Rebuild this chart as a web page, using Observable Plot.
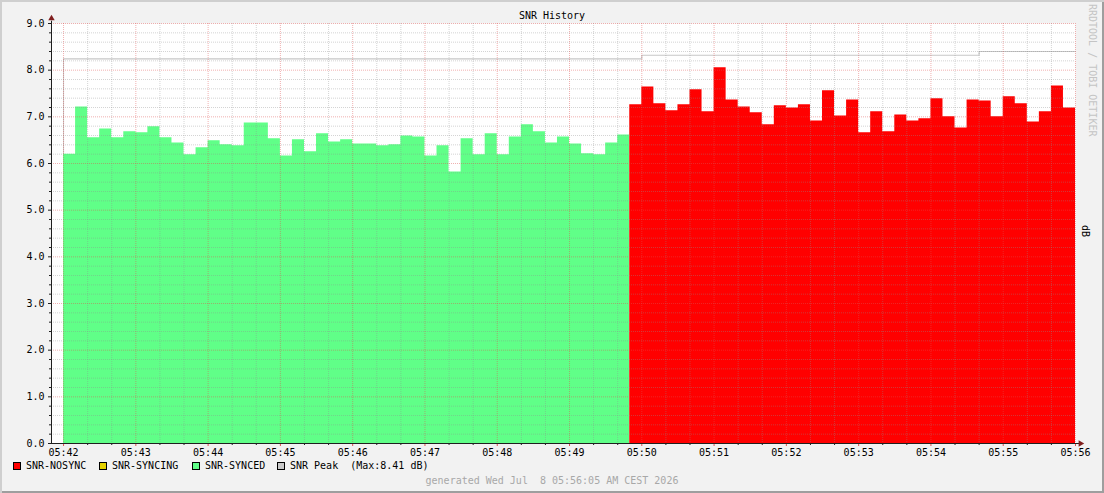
<!DOCTYPE html>
<html>
<head>
<meta charset="utf-8">
<script src="https://cdn.jsdelivr.net/npm/d3@7"></script>
<script src="https://cdn.jsdelivr.net/npm/@observablehq/plot@0.6"></script>
<style>
  body { margin: 0; background: #fff; }
  #chart {
    position: relative; width: 1104px; height: 493px; overflow: hidden;
    background: #f2f2f2;
    box-shadow: inset 2px 2px 0 #cfcfcf, inset -2px -2px 0 #9e9e9e;
    font-family: "DejaVu Sans Mono", monospace; font-size: 10px; color: #000;
  }
  #chart svg { position: absolute; left: 0; top: 0; }
  .abs { position: absolute; white-space: pre; line-height: 12px; }
  #title { left: 0; width: 1104px; top: 10px; text-align: center; }
  #footer { left: 0; width: 1104px; top: 475px; text-align: center; color: #a8a8a8; }
  #wm { left: 1086px; top: 4px; writing-mode: vertical-rl; color: #c4c4c4; }
  #unit { left: 1079px; top: 225px; writing-mode: vertical-rl; }
  .sw { position: absolute; width: 6px; height: 6px; border: 1px solid #000; top: 462px; }
</style>
</head>
<body>
<div id="chart">
  <div id="title" class="abs"></div>
  <div id="wm" class="abs"></div>
  <div id="unit" class="abs"></div>
  <div id="footer" class="abs"></div>
</div>
<script>
// ---- data ----
const startTime = "2026-07-08T05:42:00Z";
const stepSeconds = 10;
const domainStart = "2026-07-08T05:41:50Z";
const domainEnd = "2026-07-08T05:56:00Z";

const syncedValues = [
  6.20, 7.21, 6.55, 6.74, 6.55, 6.68, 6.66, 6.79, 6.55, 6.44,
  6.19, 6.34, 6.49, 6.40, 6.38, 6.87, 6.87, 6.53, 6.16, 6.51,
  6.25, 6.64, 6.46, 6.51, 6.42, 6.42, 6.38, 6.40, 6.59, 6.57,
  6.16, 6.38, 5.82, 6.53, 6.19, 6.64, 6.19, 6.57, 6.83, 6.68,
  6.44, 6.57, 6.42, 6.21, 6.19, 6.44, 6.61
];
const nosyncValues = [
  7.26, 7.64, 7.28, 7.13, 7.26, 7.58, 7.11, 8.05, 7.36, 7.21,
  7.09, 6.83, 7.24, 7.19, 7.26, 6.91, 7.56, 7.02, 7.36, 6.66,
  7.11, 6.68, 7.04, 6.91, 6.96, 7.39, 7.00, 6.76, 7.36, 7.34,
  7.00, 7.43, 7.28, 6.89, 7.11, 7.66, 7.19
];
const peakSteps = [0, 48, 76];
const peakLevels = [8.24, 8.32, 8.40];

const yMajorTicks = [0, 1, 2, 3, 4, 5, 6, 7, 8, 9];
const legendLabels = ["SNR-NOSYNC", "SNR-SYNCING", "SNR-SYNCED", "SNR Peak  (Max:8.41 dB)"];
const legendColors = ["#ff0000", "#e6d200", "#60ff88", "#c8c8c8"];
const legendX = [13, 99, 192, 277];
const titleText = "SNR History";
const footerText = "generated Wed Jul  8 05:56:05 AM CEST 2026";
const watermarkText = "RRDTOOL / TOBI OETIKER";
const unitText = "dB";

// ---- build tables ----
const t0 = new Date(startTime);
const at = i => new Date(+t0 + i * stepSeconds * 1000);
const nSync = syncedValues.length;
const total = nSync + nosyncValues.length;
const synced = syncedValues.map((v, i) => ({t: at(i), v}));
synced.push({t: at(nSync), v: syncedValues[nSync - 1]});
const nosync = nosyncValues.map((v, i) => ({t: at(nSync + i), v}));
nosync.push({t: at(total), v: nosyncValues[nosyncValues.length - 1]});
const peak = peakSteps.map((s, i) => ({t: at(s), v: peakLevels[i]}));
peak.push({t: at(total), v: peakLevels[peakLevels.length - 1]});

const xStart = new Date(domainStart), xEnd = new Date(domainEnd);
const majorT = d3.utcMinute.range(t0, new Date(+xEnd + 1));
const minorT = d3.utcSecond.every(20).range(t0, xEnd).filter(d => d.getUTCSeconds() !== 0);
const yMinor = d3.range(1, 45).map(i => i / 5).filter(v => Math.abs(v - Math.round(v)) > 1e-9);
const yMajorGrid = yMajorTicks.filter(v => v > 0);

const gridGray = "#8f8f8f", gridRed = "#de4f4f";
const axisCol = "#1f1f1f", arrowCol = "#801f1f";

const chart = Plot.plot({
  width: 1104, height: 462,
  marginLeft: 51, marginRight: 29, marginTop: 23, marginBottom: 19,
  style: {background: "transparent", fontFamily: "DejaVu Sans Mono", fontSize: "10px", overflow: "visible", color: "#000"},
  x: {type: "utc", domain: [xStart, xEnd]},
  y: {domain: [0, 9]},
  marks: [
    Plot.frame({fill: "white", stroke: null}),
    Plot.ruleX([peak[0]], {x: "t", y1: 0, y2: "v", stroke: "#c8c8c8"}),
    Plot.areaY(synced, {x: "t", y: "v", fill: legendColors[2], curve: "step-after"}),
    Plot.areaY(nosync, {x: "t", y: "v", fill: legendColors[0], curve: "step-after"}),
    Plot.lineY(peak, {x: "t", y: "v", stroke: "#c8c8c8", strokeWidth: 1.2, curve: "step-after"}),
    // grid (on top, as rrdtool)
    Plot.ruleX(minorT, {stroke: gridGray, strokeOpacity: 0.38, strokeDasharray: "1,1"}),
    Plot.ruleY(yMinor, {stroke: gridGray, strokeOpacity: 0.38, strokeDasharray: "1,1"}),
    Plot.ruleX(majorT, {stroke: gridRed, strokeOpacity: 0.45, strokeDasharray: "1,1"}),
    Plot.ruleY(yMajorGrid, {stroke: gridRed, strokeOpacity: 0.45, strokeDasharray: "1,1"}),
    // axes
    Plot.axisY(yMinor, {tickSize: 2, tickFormat: () => "", stroke: axisCol}),
    Plot.axisY(yMajorTicks, {tickSize: 3, tickPadding: 4, tickFormat: d3.format(".1f"), stroke: axisCol, fill: "#000", fontSize: 10}),
    Plot.axisX(minorT, {tickSize: 2, tickFormat: () => "", stroke: axisCol}),
    Plot.axisX(majorT, {tickSize: 3, tickPadding: 2, tickFormat: d3.utcFormat("%H:%M"), stroke: gridRed, fill: "#000", fontSize: 10}),
    Plot.ruleY([0], {x1: xStart, x2: new Date(+xEnd + 5000), stroke: axisCol}),
    Plot.ruleX([xStart], {y1: 0, y2: 9.05, stroke: axisCol}),
    Plot.dot([{x: xStart, y: 9}], {x: "x", y: "y", symbol: "triangle", r: 2.4, fill: arrowCol, stroke: null, dy: -5}),
    Plot.dot([{x: xEnd, y: 0}], {x: "x", y: "y", symbol: "triangle", r: 2.4, fill: arrowCol, stroke: null, dx: 5, rotate: 90})
  ]
});
const root = document.getElementById("chart");
root.insertBefore(chart, root.firstChild);

document.getElementById("title").textContent = titleText;
document.getElementById("footer").textContent = footerText;
document.getElementById("wm").textContent = watermarkText;
document.getElementById("unit").textContent = unitText;

legendLabels.forEach((lab, i) => {
  const sw = document.createElement("div");
  sw.className = "sw";
  sw.style.left = legendX[i] + "px";
  sw.style.background = legendColors[i];
  root.appendChild(sw);
  const tx = document.createElement("div");
  tx.className = "abs";
  tx.style.left = (legendX[i] + 13) + "px";
  tx.style.top = "460px";
  tx.textContent = lab;
  root.appendChild(tx);
});
</script>
</body>
</html>
